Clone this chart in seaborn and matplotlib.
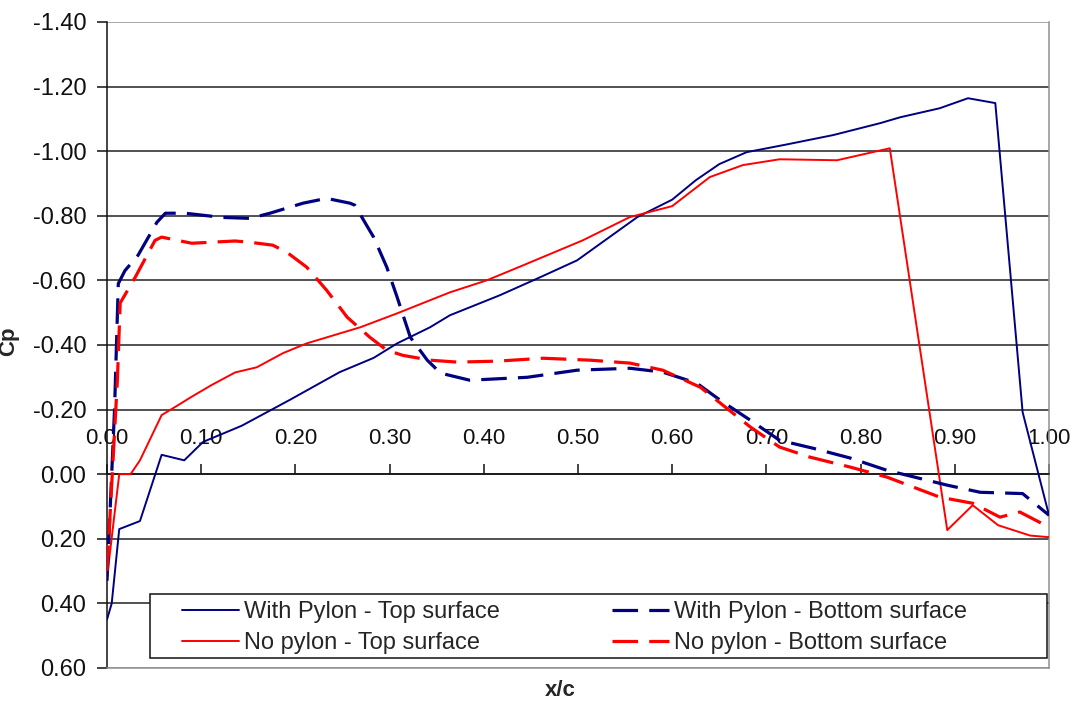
import numpy as np
import pandas as pd
import matplotlib
matplotlib.use("Agg")
import matplotlib.pyplot as plt
from matplotlib.patches import Rectangle
from matplotlib.ticker import FormatStrFormatter
import seaborn as sns

# ---------------- data ----------------
wp_top_x = [0.0, 0.005, 0.013, 0.035, 0.058, 0.082, 0.102, 0.143, 0.194, 0.247, 0.283, 0.308,
            0.343, 0.364, 0.417, 0.46, 0.499, 0.563, 0.60, 0.625, 0.65, 0.679, 0.72, 0.771,
            0.821, 0.842, 0.884, 0.914, 0.943, 0.972, 1.0]
wp_top_y = [0.45, 0.40, 0.17, 0.145, -0.06, -0.043, -0.10, -0.15, -0.23, -0.316, -0.36, -0.405,
            -0.455, -0.492, -0.554, -0.61, -0.662, -0.796, -0.85, -0.91, -0.96, -0.997, -1.02, -1.05,
            -1.087, -1.105, -1.133, -1.164, -1.149, -0.192, 0.127]

np_top_x = [0.0, 0.013, 0.025, 0.035, 0.058, 0.07, 0.09, 0.111, 0.136, 0.159, 0.187, 0.212,
            0.269, 0.308, 0.364, 0.403, 0.442, 0.505, 0.555, 0.60, 0.64, 0.675, 0.714, 0.775,
            0.831, 0.892, 0.919, 0.946, 0.98, 1.0]
np_top_y = [0.32, 0.0, 0.0, -0.043, -0.183, -0.204, -0.24, -0.276, -0.315, -0.331, -0.375, -0.405,
            -0.455, -0.498, -0.563, -0.6, -0.647, -0.724, -0.796, -0.83, -0.92, -0.957, -0.975, -0.972,
            -1.009, 0.173, 0.096, 0.158, 0.19, 0.195]

wp_bot_x = [0.0, 0.008, 0.012, 0.019, 0.033, 0.053, 0.062, 0.083, 0.122, 0.152, 0.173, 0.208,
            0.233, 0.258, 0.263, 0.283, 0.297, 0.308, 0.322, 0.34, 0.354, 0.385, 0.446, 0.499,
            0.555, 0.59, 0.626, 0.651, 0.683, 0.714, 0.75, 0.789, 0.828, 0.892, 0.927, 0.972, 1.0]
wp_bot_y = [0.33, -0.2, -0.59, -0.63, -0.678, -0.78, -0.808, -0.808, -0.795, -0.792, -0.808, -0.839,
            -0.854, -0.839, -0.833, -0.734, -0.641, -0.548, -0.424, -0.353, -0.313, -0.291, -0.3, -0.322,
            -0.328, -0.316, -0.282, -0.229, -0.167, -0.105, -0.08, -0.05, -0.012, 0.034, 0.056, 0.06, 0.127]

np_bot_x = [0.0, 0.011, 0.014, 0.03, 0.051, 0.058, 0.09, 0.136, 0.152, 0.176, 0.191, 0.212,
            0.233, 0.255, 0.279, 0.297, 0.314, 0.343, 0.372, 0.414, 0.463, 0.513, 0.555, 0.59,
            0.63, 0.683, 0.714, 0.746, 0.789, 0.828, 0.884, 0.919, 0.948, 0.969, 1.0]
np_bot_y = [0.30, -0.29, -0.53, -0.61, -0.724, -0.734, -0.715, -0.722, -0.718, -0.709, -0.687, -0.641,
            -0.57, -0.486, -0.424, -0.384, -0.368, -0.353, -0.347, -0.35, -0.359, -0.353, -0.344, -0.322,
            -0.269, -0.146, -0.084, -0.053, -0.022, 0.009, 0.071, 0.09, 0.133, 0.117, 0.164]

labels = ["With Pylon - Top surface", "No pylon - Top surface",
          "With Pylon - Bottom surface", "No pylon - Bottom surface"]
x_ticks = [0.0, 0.1, 0.2, 0.3, 0.4, 0.5, 0.6, 0.7, 0.8, 0.9, 1.0]
y_ticks = [-1.4, -1.2, -1.0, -0.8, -0.6, -0.4, -0.2, 0.0, 0.2, 0.4, 0.6]

# ---------------- style ----------------
sns.set_style("white")
plt.rcParams['font.family'] = ['Liberation Sans', 'DejaVu Sans']
plt.rcParams['axes.unicode_minus'] = False

NAVY = "#000080"
RED = "#FF0000"

fig = plt.figure(figsize=(10.73, 7.03), dpi=100)
ax = fig.add_axes([107/1073, 1 - 668/703, (1049-107)/1073, (668-22)/703])

series = [
    (wp_top_x, wp_top_y, NAVY, "-", labels[0]),
    (np_top_x, np_top_y, RED, "-", labels[1]),
    (wp_bot_x, wp_bot_y, NAVY, "--", labels[2]),
    (np_bot_x, np_bot_y, RED, "--", labels[3]),
]
handles = []
for xs, ys, col, ls, lab in series:
    df = pd.DataFrame({"x": xs, "y": ys})
    if ls == "-":
        sns.lineplot(data=df, x="x", y="y", color=col, lw=1.4, sort=False,
                     estimator=None, ax=ax, label=lab, zorder=3)
    else:
        sns.lineplot(data=df, x="x", y="y", color=col, lw=2.3, sort=False,
                     estimator=None, ax=ax, label=lab, zorder=3)
        ax.lines[-1].set_dashes((8, 3.5))
    handles.append(ax.lines[-1])
if ax.get_legend():
    ax.get_legend().remove()

ax.set_xlim(0, 1.0)
ax.set_ylim(0.6, -1.4)
ax.set_xticks(x_ticks)
ax.set_yticks(y_ticks)
ax.xaxis.set_major_formatter(FormatStrFormatter('%.2f'))
ax.yaxis.set_major_formatter(FormatStrFormatter('%.2f'))
ax.set_xlabel("")
ax.set_ylabel("")

# grid
ax.grid(axis='y', color='#222222', lw=1.1, zorder=1)
ax.set_axisbelow(True)
glines = ax.get_ygridlines()
glines[0].set_color('#909090')
glines[-1].set_color('#909090')

# spines
ax.spines['left'].set_color('#111111')
ax.spines['left'].set_linewidth(1.1)
ax.spines['right'].set_color('#909090')
ax.spines['right'].set_linewidth(1.1)
ax.spines['bottom'].set_color('#909090')
ax.spines['bottom'].set_linewidth(1.1)
ax.spines['top'].set_position(('data', 0))
ax.spines['top'].set_color('#111111')
ax.spines['top'].set_linewidth(1.1)
ax.xaxis.set_ticks_position('top')
ax.tick_params(axis='x', direction='out', length=7, width=1.1, color='#111111',
               pad=11, labelsize=16, labelcolor='#111111')
ax.tick_params(axis='y', direction='out', length=7, width=1.1, color='#111111',
               pad=8, labelsize=17, labelcolor='#111111', left=True)

# legend frame + legend
ax.add_patch(Rectangle((150/1073, 1 - 658/703), (1047-150)/1073, (658-594)/703,
                       transform=fig.transFigure, facecolor='white', edgecolor='#111111',
                       lw=1.1, zorder=4, clip_on=False))
leg = ax.legend(handles=handles, labels=labels, ncol=2, frameon=False,
                loc='upper left', bbox_to_anchor=(182/1073, 1 - 601/703),
                bbox_transform=fig.transFigure, borderpad=0, borderaxespad=0,
                fontsize=17, handlelength=2.42, handletextpad=0.21,
                columnspacing=4.75, labelspacing=0.39)
leg.set_zorder(5)

fig.text(560/1073, 1 - 691/703, "x/c", ha='center', va='center',
         fontsize=16, fontweight='bold')
fig.text(9/1073, 1 - 341/703, "Cp", ha='center', va='center', rotation=90,
         fontsize=16, fontweight='bold')

fig.savefig("out.png", dpi=100)
